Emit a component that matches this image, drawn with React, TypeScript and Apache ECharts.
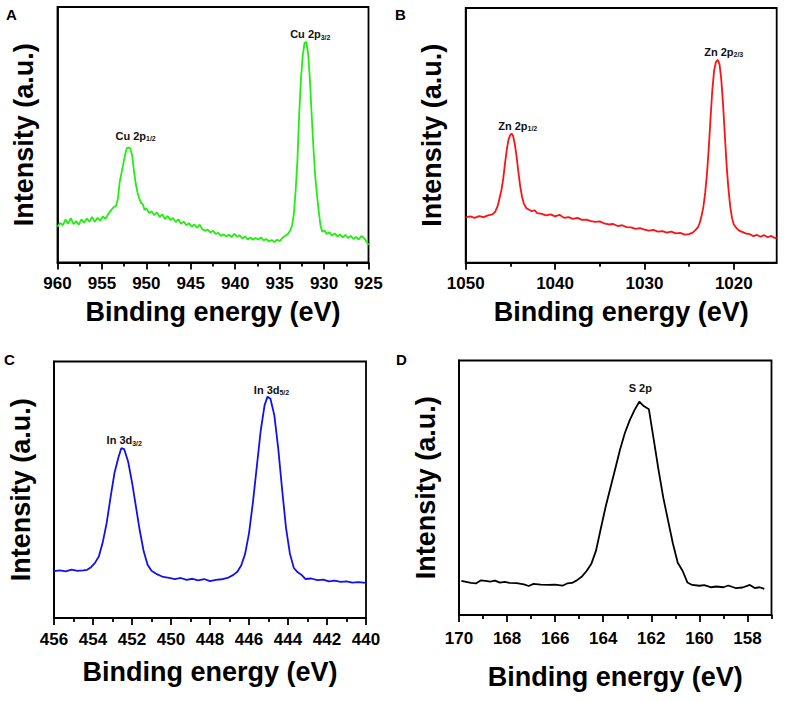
import React, { useEffect, useRef } from "react";
import * as echarts from "echarts";

const FONT = "'Liberation Sans', Arial, Helvetica, sans-serif";

// ---------- Panel A: Cu 2p ----------
const cuEnergy = [
  960.0, 959.7, 959.4, 959.1, 958.8, 958.5, 958.2, 957.9, 957.6, 957.3, 957.0, 956.7, 956.4, 956.1, 955.8,
  955.5, 955.2, 954.9, 954.6, 954.3, 954.0, 953.7, 953.4, 953.2, 953.0, 952.8, 952.6, 952.4, 952.2, 952.0,
  951.8, 951.6, 951.4, 951.2, 951.0, 950.8, 950.6, 950.4, 950.2, 950.0, 949.7, 949.4, 949.1, 948.8, 948.5,
  948.2, 947.9, 947.6, 947.3, 947.0, 946.7, 946.4, 946.1, 945.8, 945.5, 945.2, 944.9, 944.6, 944.3, 944.0,
  943.7, 943.4, 943.1, 942.8, 942.5, 942.2, 941.9, 941.6, 941.3, 941.0, 940.7, 940.4, 940.1, 939.8, 939.5,
  939.2, 938.9, 938.6, 938.3, 938.0, 937.7, 937.4, 937.1, 936.8, 936.5, 936.2, 935.9, 935.6, 935.3, 935.0,
  934.7, 934.4, 934.1, 933.8, 933.6, 933.4, 933.2, 933.0, 932.8, 932.6, 932.4, 932.2, 932.0, 931.8, 931.6,
  931.4, 931.2, 931.0, 930.8, 930.6, 930.4, 930.2, 930.0, 929.7, 929.4, 929.1, 928.8, 928.5, 928.2, 927.9,
  927.6, 927.3, 927.0, 926.7, 926.4, 926.1, 925.8, 925.5, 925.2, 925.0,
];
const cuIntensity = [
  14.0, 15.5, 14.6, 16.8, 15.2, 17.4, 15.0, 16.2, 14.8, 16.9, 15.6, 17.2, 16.0, 17.8, 15.9,
  17.5, 16.4, 18.0, 17.1, 18.9, 20.4, 21.6, 22.2, 25.0, 31.5, 35.0, 38.5, 42.0, 44.8, 45.0,
  44.5, 42.0, 36.0, 31.0, 27.5, 25.0, 23.4, 22.8, 20.6, 21.2, 19.4, 20.0, 18.5, 19.6, 17.8,
  18.8, 17.0, 18.2, 16.6, 17.4, 15.8, 16.9, 15.2, 16.0, 14.6, 15.4, 14.0, 14.9, 13.6, 14.8,
  13.0, 12.4, 12.9, 11.8, 12.4, 11.2, 11.6, 10.4, 11.0, 10.2, 10.9, 10.0, 11.2, 10.1, 10.6,
  9.4, 10.2, 9.0, 9.8, 8.9, 9.6, 9.0, 9.8, 8.6, 9.2, 8.2, 8.8, 8.0, 8.9, 8.4,
  9.6, 10.4, 11.0, 12.6, 14.5, 19.0, 28.0, 40.0, 58.0, 72.0, 81.0, 86.0, 86.3, 82.0, 72.0,
  58.0, 45.0, 34.0, 26.5, 20.0, 14.5, 12.0, 12.6, 11.2, 11.8, 10.5, 11.4, 10.2, 11.0, 9.8,
  10.8, 9.6, 10.4, 9.2, 10.0, 9.0, 10.4, 9.6, 8.0, 6.8,
];
const cuMajorTicks = [960, 955, 950, 945, 940, 935, 930, 925];
const cuMinorTicks = [957.5, 952.5, 947.5, 942.5, 937.5, 932.5, 927.5];
const cuPeakEnergy = [952.0, 932.0];
const cuPeakIntensity = [45.0, 86.3];
const cuPeakNames = ["Cu 2p", "Cu 2p"];
const cuPeakSubs = ["1/2", "3/2"];

// ---------- Panel B: Zn 2p ----------
const znEnergy = [
  1050.0, 1049.5, 1049.0, 1048.5, 1048.0, 1047.5, 1047.0, 1046.7, 1046.4, 1046.2, 1046.0, 1045.8, 1045.6,
  1045.4, 1045.2, 1045.0, 1044.85, 1044.7, 1044.5, 1044.3, 1044.1, 1043.9, 1043.7, 1043.5, 1043.2, 1042.9,
  1042.6, 1042.3, 1042.0, 1041.5, 1041.0, 1040.5, 1040.0, 1039.5, 1039.0, 1038.5, 1038.0, 1037.5, 1037.0,
  1036.5, 1036.0, 1035.5, 1035.0, 1034.5, 1034.0, 1033.5, 1033.0, 1032.5, 1032.0, 1031.5, 1031.0, 1030.5,
  1030.0, 1029.5, 1029.0, 1028.5, 1028.0, 1027.5, 1027.0, 1026.5, 1026.0, 1025.5, 1025.0, 1024.6, 1024.3,
  1024.0, 1023.8, 1023.6, 1023.4, 1023.2, 1023.0, 1022.8, 1022.6, 1022.4, 1022.2, 1022.0, 1021.8, 1021.6,
  1021.4, 1021.2, 1021.0, 1020.8, 1020.6, 1020.4, 1020.2, 1020.0, 1019.7, 1019.4, 1019.0, 1018.6, 1018.2,
  1017.8, 1017.4, 1017.0, 1016.6, 1016.2, 1015.8, 1015.5, 1015.2,
];
const znIntensity = [
  17.8, 18.2, 17.6, 18.3, 17.9, 18.6, 19.0, 20.0, 22.5, 25.5, 28.5, 33.0, 39.0,
  44.5, 48.5, 50.2, 50.6, 49.8, 46.5, 41.5, 35.5, 30.0, 26.0, 23.2, 21.4, 20.8,
  20.2, 20.6, 19.5, 19.2, 18.6, 19.0, 18.2, 18.8, 17.6, 17.9, 17.2, 17.6, 16.8,
  16.9, 16.3, 16.0, 16.2, 15.4, 15.0, 15.2, 14.4, 14.7, 14.0, 13.9, 13.3, 13.6,
  13.0, 12.6, 12.9, 12.2, 12.4, 11.8, 12.2, 11.5, 11.7, 11.0, 11.2, 11.8, 12.8,
  14.0, 15.8, 18.5, 22.0, 27.5, 35.0, 45.0, 57.0, 68.0, 75.5, 78.8, 79.6, 78.0,
  72.0, 62.0, 50.0, 38.0, 29.0, 22.0, 17.5, 15.0, 13.6, 12.6, 12.0, 11.4, 11.2,
  10.4, 10.9, 10.2, 10.8, 10.0, 10.5, 9.8, 9.6,
];
const znMajorTicks = [1050, 1040, 1030, 1020];
const znMinorTicks = [1045, 1035, 1025];
const znPeakEnergy = [1044.85, 1021.8];
const znPeakIntensity = [50.6, 79.6];
const znPeakNames = ["Zn 2p", "Zn 2p"];
const znPeakSubs = ["1/2", "2/3"];

// ---------- Panel C: In 3d ----------
const inEnergy = [
  456.0, 455.7, 455.4, 455.1, 454.8, 454.5, 454.3, 454.1, 453.9, 453.7, 453.5, 453.3, 453.1, 452.9, 452.7,
  452.55, 452.4, 452.2, 452.0, 451.8, 451.6, 451.4, 451.2, 451.0, 450.7, 450.4, 450.1, 449.8, 449.5, 449.2,
  448.9, 448.6, 448.3, 448.0, 447.7, 447.4, 447.1, 446.8, 446.6, 446.4, 446.2, 446.0, 445.8, 445.6, 445.4,
  445.2, 445.05, 444.9, 444.7, 444.5, 444.3, 444.1, 443.9, 443.7, 443.5, 443.3, 443.1, 442.8, 442.5, 442.2,
  441.9, 441.6, 441.3, 441.0, 440.7, 440.4, 440.0,
];
const inIntensity = [
  18.3, 18.6, 18.2, 18.9, 18.4, 18.6, 18.8, 19.8, 21.5, 24.0, 29.5, 37.0, 47.0, 56.5, 62.5,
  66.2, 65.8, 61.0, 53.0, 43.5, 34.0, 26.0, 20.8, 18.4, 17.0, 16.0, 15.6, 15.2, 15.6, 14.9,
  15.3, 14.7, 15.2, 14.4, 14.9, 15.1, 15.6, 16.8, 18.0, 20.5, 25.0, 33.0, 45.0, 59.0, 73.0,
  83.0, 86.3, 85.5, 79.0, 66.0, 50.0, 35.0, 25.0, 19.5, 17.8, 16.8, 15.2, 15.4, 14.8, 15.0,
  14.3, 14.6, 14.1, 14.3, 13.8, 14.0, 13.7,
];
const inMajorTicks = [456, 454, 452, 450, 448, 446, 444, 442, 440];
const inMinorTicks = [455, 453, 451, 449, 447, 445, 443, 441];
const inPeakEnergy = [452.55, 445.05];
const inPeakIntensity = [66.2, 86.3];
const inPeakNames = ["In 3d", "In 3d"];
const inPeakSubs = ["3/2", "5/2"];

// ---------- Panel D: S 2p ----------
const sEnergy = [
  169.9, 169.7, 169.5, 169.3, 169.1, 168.9, 168.7, 168.5, 168.3, 168.1, 167.9, 167.6, 167.3, 167.1, 166.9,
  166.6, 166.3, 166.0, 165.7, 165.5, 165.3, 165.1, 164.9, 164.7, 164.5, 164.3, 164.1, 163.9, 163.7, 163.5,
  163.3, 163.1, 162.9, 162.7, 162.5, 162.3, 162.1, 161.9, 161.7, 161.5, 161.3, 161.1, 160.9, 160.7, 160.5,
  160.3, 160.0, 159.8, 159.5, 159.3, 159.0, 158.8, 158.5, 158.2, 157.9, 157.7, 157.5, 157.3,
];
const sIntensity = [
  13.4, 13.0, 12.6, 12.4, 13.6, 13.4, 13.1, 13.5, 12.7, 13.0, 12.6, 12.5, 12.0, 11.4, 12.2,
  11.9, 11.8, 11.9, 11.5, 12.4, 12.6, 13.6, 15.0, 17.2, 20.0, 25.3, 34.0, 42.5, 50.0, 57.5,
  65.0, 71.5, 76.5, 80.5, 83.8, 82.0, 80.8, 69.0, 57.0, 46.0, 37.0, 28.0, 20.5, 17.4, 12.8,
  11.8, 11.5, 11.7, 10.9, 11.2, 10.9, 11.6, 10.6, 10.8, 11.8, 10.6, 10.9, 10.3,
];
const sMajorTicks = [170, 168, 166, 164, 162, 160, 158];
const sMinorTicks = [169, 167, 165, 163, 161, 159, 157];
const sPeakEnergy = [162.5];
const sPeakIntensity = [83.8];
const sPeakNames = ["S 2p"];
const sPeakSubs = [""];

const zip = (xs: number[], ys: number[]) => xs.map((x, i) => [x, ys[i]]);

type Panel = {
  letter: string;
  energy: number[];
  intensity: number[];
  major: number[];
  minor: number[];
  min: number;
  max: number;
  peakE: number[];
  peakI: number[];
  names: string[];
  subs: string[];
  color: string;
  grid: { left: number; top: number; width: number; height: number };
  letterPos: [number, number];
  xNameGap: number;
  yNameGap: number;
  labelMargin: number;
  labelOffsets: [number, number, number][];
};

const panels: Panel[] = [
  {
    letter: "A",
    energy: cuEnergy,
    intensity: cuIntensity,
    major: cuMajorTicks,
    minor: cuMinorTicks,
    min: 925,
    max: 960,
    peakE: cuPeakEnergy,
    peakI: cuPeakIntensity,
    names: cuPeakNames,
    subs: cuPeakSubs,
    color: "#22ee11",
    grid: { left: 57.5, top: 7, width: 311, height: 255.5 },
    letterPos: [6, 7],
    xNameGap: 36,
    yNameGap: 20,
    labelMargin: 12,
    labelOffsets: [[7, 0, 5], [4, 0, 1]],
  },
  {
    letter: "B",
    energy: znEnergy,
    intensity: znIntensity,
    major: znMajorTicks,
    minor: znMinorTicks,
    min: 1015.2,
    max: 1050,
    peakE: znPeakEnergy,
    peakI: znPeakIntensity,
    names: znPeakNames,
    subs: znPeakSubs,
    color: "#ff1111",
    grid: { left: 465.7, top: 8, width: 311, height: 254.7 },
    letterPos: [395, 7],
    xNameGap: 36,
    yNameGap: 20,
    labelMargin: 12,
    labelOffsets: [[6, 0, 1], [6, 0, 1]],
  },
  {
    letter: "C",
    energy: inEnergy,
    intensity: inIntensity,
    major: inMajorTicks,
    minor: inMinorTicks,
    min: 440,
    max: 456,
    peakE: inPeakEnergy,
    peakI: inPeakIntensity,
    names: inPeakNames,
    subs: inPeakSubs,
    color: "#1111ee",
    grid: { left: 54, top: 361.5, width: 312, height: 256.5 },
    letterPos: [4, 352],
    xNameGap: 40,
    yNameGap: 20,
    labelMargin: 13,
    labelOffsets: [[3, 0, 1], [4, 0, 0]],
  },
  {
    letter: "D",
    energy: sEnergy,
    intensity: sIntensity,
    major: sMajorTicks,
    minor: sMinorTicks,
    min: 157,
    max: 170,
    peakE: sPeakEnergy,
    peakI: sPeakIntensity,
    names: sPeakNames,
    subs: sPeakSubs,
    color: "#000000",
    grid: { left: 459, top: 360.5, width: 312.5, height: 254.5 },
    letterPos: [396, 352],
    xNameGap: 48,
    yNameGap: 20,
    labelMargin: 15,
    labelOffsets: [[1, 0, 7]],
  },
];

const tickTextStyle = {
  fontSize: 17,
  fontWeight: "bold",
  fontFamily: FONT,
  color: "#000",
};

export default function App() {
  const ref = useRef<HTMLDivElement>(null);
  useEffect(() => {
    if (!ref.current) return;
    const chart = echarts.init(ref.current, undefined, { renderer: "svg" });

    const grids: any[] = [];
    const xAxes: any[] = [];
    const yAxes: any[] = [];
    const series: any[] = [];
    const titles: any[] = [];

    panels.forEach((p, i) => {
      grids.push({
        ...p.grid,
        show: true,
        borderColor: "#000",
        borderWidth: 1.8,
        backgroundColor: "transparent",
        containLabel: false,
        outerBoundsMode: "none",
      });
      // major ticks + tick labels
      xAxes.push({
        gridIndex: i,
        type: "value",
        inverse: true,
        min: p.min,
        max: p.max,
        position: "bottom",
        axisLine: { show: true, onZero: false, lineStyle: { color: "#000", width: 1.8 } },
        axisTick: { show: true, inside: false, length: 7, customValues: p.major, lineStyle: { color: "#000", width: 1.8 } },
        axisLabel: {
          show: true,
          customValues: p.major,
          margin: p.labelMargin,
          ...tickTextStyle,
          formatter: (v: number) => String(Math.round(v * 1000) / 1000),
        },
        splitLine: { show: false },
        name: "Binding energy (eV)",
        nameLocation: "middle",
        nameGap: p.xNameGap,
        nameMoveOverlap: false,
        nameTextStyle: { color: "#000", fontSize: 27, fontWeight: "bold", fontFamily: FONT },
      });
      // minor ticks
      xAxes.push({
        gridIndex: i,
        type: "value",
        inverse: true,
        min: p.min,
        max: p.max,
        position: "bottom",
        axisLine: { show: false, onZero: false },
        axisTick: { show: true, inside: false, length: 4, customValues: p.minor, lineStyle: { color: "#000", width: 1.8 } },
        axisLabel: { show: false },
        splitLine: { show: false },
      });
      yAxes.push({
        gridIndex: i,
        type: "value",
        min: 0,
        max: 100,
        axisLine: { show: true, onZero: false, lineStyle: { color: "#000", width: 1.8 } },
        axisTick: { show: false },
        axisLabel: { show: false },
        splitLine: { show: false },
        name: "Intensity (a.u.)",
        nameLocation: "middle",
        nameGap: p.yNameGap,
        nameMoveOverlap: false,
        nameTextStyle: { color: "#000", fontSize: 27, fontWeight: "bold", fontFamily: FONT },
      });
      series.push({
        type: "line",
        xAxisIndex: i * 2,
        yAxisIndex: i,
        data: zip(p.energy, p.intensity),
        showSymbol: false,
        symbol: "none",
        smooth: false,
        lineStyle: { color: p.color, width: 1.8 },
        itemStyle: { color: p.color },
        silent: true,
        markPoint: {
          silent: true,
          symbol: "circle",
          symbolSize: 1,
          itemStyle: { color: "rgba(0,0,0,0)" },
          data: p.peakE.map((e, k) => ({
            coord: [e, p.peakI[k]],
            label: {
              show: true,
              position: "top",
              distance: p.labelOffsets[k][2],
              offset: [p.labelOffsets[k][0], p.labelOffsets[k][1]],
              formatter: p.subs[k] ? `{m|${p.names[k]}}{s|${p.subs[k]}}` : `{m|${p.names[k]}}`,
              rich: {
                m: { fontSize: 11, fontWeight: "bold", fontFamily: FONT, color: "#111", lineHeight: 13 },
                s: { fontSize: 7, fontWeight: "bold", fontFamily: FONT, color: "#111", lineHeight: 6, verticalAlign: "bottom" },
              },
            },
          })),
        },
      });
      titles.push({
        text: p.letter,
        left: p.letterPos[0],
        top: p.letterPos[1],
        padding: 0,
        textStyle: { fontSize: 15, fontWeight: "bold", fontFamily: FONT, color: "#000" },
      });
    });

    chart.setOption({
      animation: false,
      backgroundColor: "#fff",
      title: titles,
      grid: grids,
      xAxis: xAxes,
      yAxis: yAxes,
      series,
    });

    return () => chart.dispose();
  }, []);

  return (
    <div
      ref={ref}
      style={{ position: "absolute", left: 0, top: 0, width: 785, height: 702, background: "#fff" }}
    />
  );
}
